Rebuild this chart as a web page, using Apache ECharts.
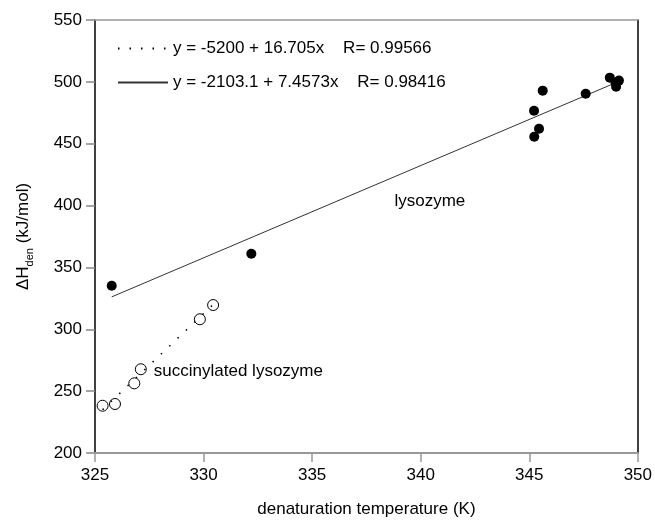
<!DOCTYPE html>
<html>
<head>
<meta charset="utf-8">
<script src="https://cdn.jsdelivr.net/npm/echarts@6/dist/echarts.min.js"></script>
<style>html,body{margin:0;padding:0;background:#fff}#c{width:655px;height:525px}</style>
</head>
<body>
<div id="c"></div>
<script>
// ---- data ----
const lysozyme = [
  [325.77, 335.2], [332.2, 361.0], [345.22, 476.7], [345.23, 455.7],
  [345.45, 462.1], [345.62, 492.9], [347.60, 490.4], [348.71, 503.4],
  [348.97, 499.3], [349.13, 501.0], [349.0, 496.1]
];
const succinylated = [
  [325.35, 238.2], [325.92, 239.6], [326.81, 256.3], [327.11, 267.7],
  [329.83, 308.1], [330.44, 319.6]
];
const fitSuccEnds = [[325.35, 235.0], [330.44, 320.0]];
const fitLysoEnds = [[325.77, 326.2], [349.13, 500.4]];
const fitNames = ['y = -5200 + 16.705x    R= 0.99566', 'y = -2103.1 + 7.4573x    R= 0.98416'];
const annotations = [
  { name: 'lysozyme', value: [338.79, 403.7] },
  { name: 'succinylated lysozyme', value: [327.71, 265.7] }
];
const xTicks = [325, 330, 335, 340, 345, 350];
const yTicks = [200, 250, 300, 350, 400, 450, 500, 550];

const FONT = 'Liberation Sans, Arial, sans-serif';
const chart = echarts.init(document.getElementById('c'));
chart.setOption({
  animation: false,
  backgroundColor: '#fff',
  textStyle: { fontFamily: FONT },
  grid: { left: 95, right: 16, top: 20, bottom: 72 },
  legend: {
    data: fitNames,
    orient: 'vertical',
    left: 112, top: 35,
    itemWidth: 50, itemHeight: 12, itemGap: 17,
    textStyle: { fontSize: 17, color: '#000', fontFamily: FONT }
  },
  xAxis: [{
    type: 'value', min: xTicks[0], max: xTicks[xTicks.length - 1], interval: 5,
    name: 'denaturation temperature (K)', nameLocation: 'middle', nameGap: 48,
    nameTextStyle: { fontSize: 17, color: '#000', fontFamily: FONT },
    axisLine: { show: true, onZero: false, lineStyle: { color: '#999', width: 2 } },
    axisTick: { show: true, inside: false, length: 9, lineStyle: { color: '#999', width: 1.5 } },
    axisLabel: { fontSize: 17, color: '#000', margin: 14, fontFamily: FONT },
    splitLine: { show: false }
  }, {
    type: 'value', position: 'top', min: xTicks[0], max: xTicks[xTicks.length - 1],
    axisLine: { show: true, onZero: false, lineStyle: { color: '#999', width: 1.5 } },
    axisTick: { show: false }, axisLabel: { show: false }, splitLine: { show: false }
  }],
  yAxis: [{
    type: 'value', min: yTicks[0], max: yTicks[yTicks.length - 1], interval: 50,
    name: '{a|ΔH}{b|den}{a| (kJ/mol)}', nameLocation: 'middle', nameGap: 60,
    nameTextStyle: {
      color: '#000',
      rich: {
        a: { fontSize: 17, color: '#000', fontFamily: FONT, lineHeight: 24 },
        b: { fontSize: 11, color: '#000', fontFamily: FONT, lineHeight: 11, verticalAlign: 'bottom' }
      }
    },
    axisLine: { show: true, onZero: false, lineStyle: { color: '#000', width: 1.5 } },
    axisTick: { show: true, inside: false, length: 9, lineStyle: { color: '#888', width: 1.5 } },
    axisLabel: { fontSize: 17, color: '#000', margin: 13, fontFamily: FONT },
    splitLine: { show: false }
  }, {
    type: 'value', position: 'right', min: yTicks[0], max: yTicks[yTicks.length - 1],
    axisLine: { show: true, onZero: false, lineStyle: { color: '#000', width: 1.5 } },
    axisTick: { show: false }, axisLabel: { show: false }, splitLine: { show: false }
  }],
  series: [
    {
      name: fitNames[0], type: 'line', data: fitSuccEnds, symbol: 'none',
      itemStyle: { color: 'rgba(0,0,0,0)' },
      lineStyle: { color: '#000', width: 1.5, type: [1.5, 10] }, z: 2
    },
    {
      name: fitNames[1], type: 'line', data: fitLysoEnds, symbol: 'none',
      itemStyle: { color: 'rgba(0,0,0,0)' },
      lineStyle: { color: '#333', width: 1 }, z: 2
    },
    {
      name: 'lysozyme', type: 'scatter', data: lysozyme, symbol: 'circle', symbolSize: 10,
      itemStyle: { color: '#000', opacity: 1 }, z: 3
    },
    {
      name: 'succinylated lysozyme', type: 'scatter', data: succinylated, symbol: 'circle', symbolSize: 11,
      itemStyle: { color: 'rgba(255,255,255,0)', borderColor: '#000', borderWidth: 1, opacity: 1 }, z: 3
    },
    {
      name: 'labels', type: 'scatter', data: annotations, symbolSize: 0.01, silent: true,
      itemStyle: { color: '#000', opacity: 1 },
      label: { show: true, position: 'right', distance: 0, formatter: p => p.name,
               fontSize: 17, color: '#000', opacity: 1, fontFamily: FONT },
      z: 4
    }
  ]
});
</script>
</body>
</html>
